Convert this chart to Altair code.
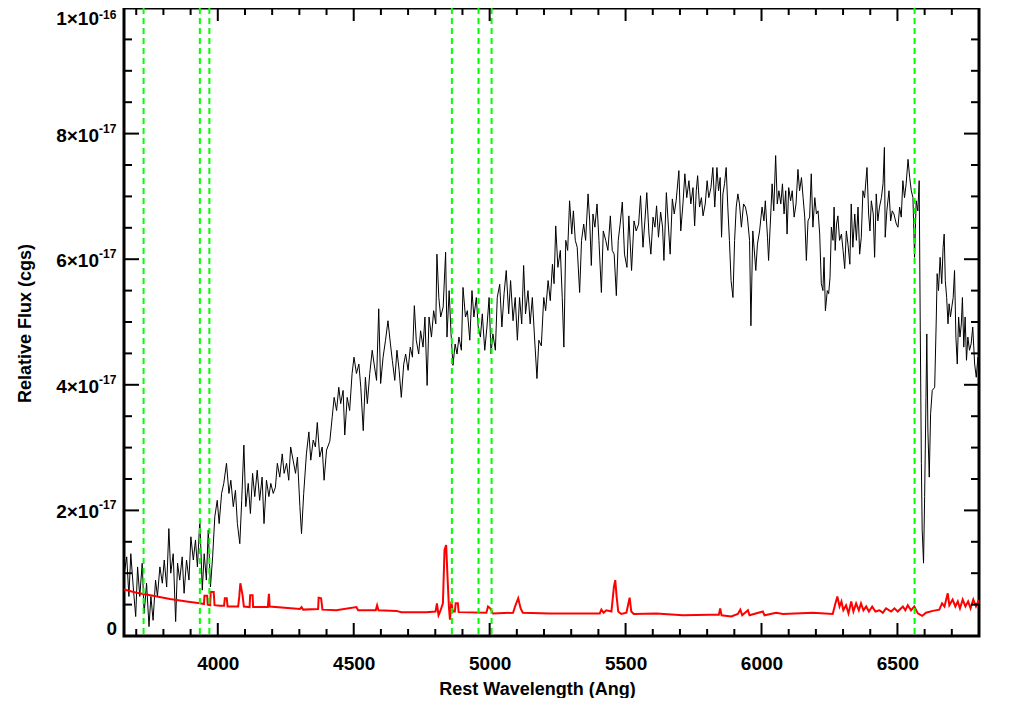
import altair as alt
import pandas as pd

# ---------------- data (flux in units of 1e-17 erg/s/cm^2/A) ----------------
# observed spectrum (black), as (rest wavelength, flux) pairs
spec_blue = [
    (3656, 1.00), (3665, 1.26), (3673, 0.63), (3680, 1.31), (3689, 0.78), (3698, 0.31),
    (3705, 1.10), (3713, 0.63), (3722, 1.16), (3729, 0.36), (3738, 0.84), (3747, 0.15),
    (3754, 0.63), (3762, 0.25), (3771, 0.89), (3778, 0.63), (3787, 1.10), (3796, 0.84),
    (3803, 1.21), (3812, 0.78), (3820, 1.71), (3827, 1.00), (3836, 1.31), (3845, 0.23),
    (3852, 1.16), (3860, 0.89), (3869, 1.26), (3876, 0.68), (3885, 1.21), (3894, 0.89),
    (3901, 1.58), (3910, 1.21), (3918, 1.53), (3925, 1.10), (3934, 1.84), (3943, 0.73),
    (3950, 1.31), (3958, 0.89), (3965, 1.69), (3973, 0.78), (3981, 1.26), (3989, 1.90),
    (3998, 2.16), (4005, 1.79), (4014, 2.27), (4022, 2.43), (4032, 2.75), (4041, 2.27),
    (4048, 2.48), (4057, 2.06), (4065, 2.32), (4072, 1.79), (4081, 1.47), (4088, 2.16),
    (4096, 3.04), (4103, 2.06), (4112, 2.43), (4120, 1.95), (4128, 2.59), (4136, 2.22),
    (4145, 2.64), (4154, 2.16), (4163, 2.53), (4170, 1.79), (4179, 2.48), (4188, 2.22),
    (4195, 2.43), (4204, 2.27), (4212, 2.37), (4219, 2.75), (4228, 2.53), (4237, 2.90),
    (4244, 2.59), (4253, 2.75), (4261, 2.48), (4268, 3.01), (4277, 2.80), (4286, 2.59),
    (4293, 2.85), (4302, 2.06), (4308, 1.63), (4316, 2.27), (4326, 2.90), (4335, 3.25),
    (4342, 2.80), (4351, 3.12), (4359, 3.01), (4366, 3.40), (4375, 2.85), (4384, 3.01),
    (4391, 2.48), (4400, 2.96), (4412, 3.10),
]
spec_green = [
    (4421, 3.49), (4428, 3.80), (4437, 3.59), (4445, 3.96), (4452, 3.70), (4461, 3.91),
    (4467, 3.20), (4476, 3.80), (4485, 3.59), (4494, 4.18), (4501, 4.44), (4510, 4.18),
    (4519, 4.33), (4526, 3.96), (4535, 3.27), (4543, 4.12), (4550, 3.70), (4559, 4.18),
    (4568, 4.55), (4575, 4.33), (4584, 4.07), (4592, 5.21), (4599, 4.02), (4608, 4.44),
    (4617, 4.71), (4626, 5.02), (4635, 4.65), (4642, 4.39), (4651, 4.07), (4659, 4.55),
    (4667, 4.23), (4675, 3.80), (4684, 4.33), (4691, 4.49), (4700, 4.23), (4708, 4.60),
    (4716, 4.44), (4723, 5.26), (4730, 4.71), (4739, 4.49), (4746, 4.86), (4755, 4.60),
    (4762, 5.08), (4770, 3.99), (4777, 5.08), (4786, 4.76), (4794, 5.18), (4802, 4.97),
    (4806, 6.08), (4813, 5.39), (4820, 5.08), (4829, 5.24), (4838, 6.11), (4843, 4.76),
    (4851, 5.50), (4858, 4.81), (4865, 4.31), (4873, 4.65), (4880, 4.49), (4887, 4.76),
    (4896, 4.55), (4902, 5.55), (4911, 5.08), (4918, 5.18), (4927, 4.71), (4935, 5.50),
    (4942, 5.08), (4951, 5.39), (4958, 4.92), (4966, 4.76), (4973, 5.13), (4982, 4.55),
    (4990, 4.92), (4998, 5.39), (5005, 4.49), (5012, 4.81), (5021, 4.55), (5028, 5.39),
    (5037, 5.60), (5045, 4.92), (5053, 5.45), (5061, 5.82), (5070, 5.13), (5077, 5.66),
    (5086, 5.02), (5094, 5.39), (5102, 4.71), (5110, 5.39), (5118, 4.97), (5125, 5.90),
    (5132, 5.13), (5141, 5.50), (5149, 4.97), (5157, 5.39), (5165, 4.76), (5174, 4.10),
    (5181, 4.71), (5190, 4.62),
]
spec_yellow = [
    (5199, 5.39), (5206, 5.18), (5215, 5.66), (5223, 5.34), (5231, 5.92), (5237, 5.61),
    (5243, 6.53), (5251, 5.87), (5260, 6.14), (5267, 5.39), (5273, 4.60), (5280, 6.30),
    (5287, 6.14), (5294, 6.93), (5302, 6.40), (5308, 6.77), (5315, 6.30), (5322, 6.19),
    (5331, 5.47), (5338, 6.30), (5346, 6.56), (5353, 6.30), (5362, 7.04), (5368, 6.61),
    (5374, 5.90), (5380, 6.72), (5387, 6.51), (5395, 6.88), (5402, 6.30), (5411, 5.47),
    (5418, 6.45), (5427, 6.30), (5435, 6.14), (5444, 6.69), (5451, 6.14), (5458, 6.08),
    (5466, 5.42), (5473, 6.30), (5480, 6.56), (5488, 6.91), (5496, 6.08), (5505, 5.87),
    (5512, 6.69), (5522, 5.82), (5531, 6.61), (5539, 6.45), (5548, 6.56), (5555, 7.01),
    (5564, 6.19), (5571, 6.61), (5578, 7.06), (5586, 6.40), (5593, 6.08), (5601, 6.67),
    (5608, 6.51), (5614, 6.85), (5621, 6.35), (5629, 6.75), (5636, 6.51), (5641, 5.98),
    (5650, 7.06), (5657, 6.56), (5664, 6.08), (5672, 6.96), (5679, 6.72), (5686, 6.93),
    (5696, 7.41), (5703, 6.45), (5711, 6.88), (5718, 7.36), (5725, 6.98), (5733, 7.25),
    (5740, 6.88), (5748, 7.14), (5754, 6.53), (5760, 7.09), (5765, 7.33), (5772, 6.83),
    (5779, 6.98), (5785, 6.69), (5793, 6.88), (5800, 7.25), (5806, 6.98), (5814, 7.14),
    (5821, 7.46), (5828, 6.83), (5836, 7.46), (5842, 7.09), (5848, 7.30), (5853, 6.35),
    (5858, 7.04), (5864, 7.20), (5870, 7.46), (5876, 6.83), (5882, 6.30), (5888, 5.66),
    (5895, 5.39), (5901, 6.30), (5907, 6.83), (5913, 7.04), (5919, 6.88), (5926, 6.51),
    (5934, 6.88), (5941, 6.83), (5948, 6.67), (5956, 6.30), (5961, 4.94), (5968, 6.45),
]
spec_red = [
    (5979, 5.82), (5985, 6.24), (5993, 6.45), (6002, 6.83), (6009, 6.61), (6014, 6.93),
    (6022, 6.35), (6026, 5.98), (6034, 6.72), (6039, 7.20), (6045, 6.77), (6052, 7.65),
    (6058, 6.88), (6064, 7.09), (6071, 6.88), (6077, 7.20), (6083, 6.72), (6089, 7.09),
    (6094, 6.40), (6100, 7.14), (6107, 6.93), (6113, 7.09), (6120, 6.67), (6127, 6.88),
    (6134, 7.43), (6140, 7.09), (6147, 7.30), (6153, 6.98), (6159, 6.67), (6165, 5.98),
    (6171, 6.61), (6177, 6.67), (6183, 7.36), (6189, 6.51), (6196, 6.98), (6202, 6.72),
    (6208, 6.77), (6214, 6.40), (6220, 5.61), (6226, 5.50), (6230, 6.03), (6235, 5.18),
    (6242, 5.50), (6247, 5.45), (6252, 5.71), (6257, 6.51), (6263, 6.30), (6267, 6.83),
    (6271, 6.14), (6276, 6.56), (6281, 6.69), (6287, 6.30), (6294, 6.40), (6300, 6.14),
    (6306, 5.85), (6312, 6.45), (6318, 6.24), (6325, 5.92), (6330, 6.88), (6336, 6.19),
    (6343, 6.72), (6349, 6.30), (6355, 6.83), (6361, 6.08), (6367, 6.35), (6373, 7.09),
    (6379, 6.98), (6388, 7.46), (6394, 6.72), (6399, 6.45), (6404, 6.93), (6411, 6.72),
    (6416, 6.03), (6422, 7.04), (6428, 6.61), (6434, 6.83), (6441, 6.98), (6447, 7.20),
    (6452, 7.78), (6455, 6.35), (6461, 6.77), (6469, 7.09), (6475, 6.61), (6481, 6.77),
    (6487, 6.72), (6496, 6.56), (6502, 6.51), (6508, 6.83), (6514, 6.67), (6520, 7.25),
    (6526, 6.98), (6532, 7.20), (6539, 7.59), (6545, 7.30), (6551, 7.09), (6557, 6.98),
    (6563, 6.03), (6569, 6.93), (6575, 6.77), (6580, 7.25), (6584, 4.86), (6588, 2.75),
    (6591, 1.69), (6596, 1.16), (6600, 2.22), (6605, 3.80), (6608, 4.81), (6612, 3.28),
    (6617, 2.53), (6622, 3.54), (6628, 3.91), (6637, 3.96), (6643, 5.08), (6646, 5.77),
    (6651, 5.50), (6657, 6.03), (6663, 5.61), (6668, 6.19), (6672, 6.40), (6676, 5.66),
    (6681, 5.39), (6686, 4.97), (6690, 5.29), (6695, 5.08), (6700, 5.24), (6705, 5.39),
    (6710, 5.82), (6715, 4.76), (6720, 4.33), (6725, 5.08), (6730, 4.76), (6735, 4.97),
    (6739, 5.39), (6744, 4.60), (6749, 5.08), (6754, 4.39), (6759, 4.76), (6765, 4.55),
    (6771, 4.65), (6777, 4.92), (6784, 4.33), (6790, 4.12), (6796, 4.44), (6799, 4.33),
]

# error / model spectrum (red)
err_blue = [
    (3655, 0.74), (3701, 0.69), (3762, 0.64), (3824, 0.59), (3885, 0.55), (3934, 0.52),
    (3949, 0.51), (3951, 0.64), (3961, 0.64), (3963, 0.50), (3972, 0.49), (3974, 0.70),
    (3985, 0.70), (3988, 0.49), (4007, 0.48), (4023, 0.48), (4026, 0.60), (4033, 0.60),
    (4036, 0.47), (4075, 0.47), (4079, 0.63), (4083, 0.84), (4091, 0.65), (4096, 0.47),
    (4117, 0.46), (4119, 0.65), (4128, 0.65), (4130, 0.46), (4184, 0.46), (4188, 0.67),
    (4191, 0.47), (4302, 0.43), (4308, 0.46), (4314, 0.42), (4369, 0.43), (4371, 0.61),
    (4380, 0.60), (4385, 0.42), (4436, 0.41), (4510, 0.46), (4516, 0.41), (4581, 0.41),
    (4586, 0.49), (4591, 0.41), (4657, 0.40), (4675, 0.38), (4767, 0.38), (4801, 0.39),
    (4806, 0.52), (4812, 0.33), (4818, 0.39), (4828, 0.52), (4834, 1.37), (4840, 1.45),
    (4845, 0.94), (4850, 0.47), (4854, 0.26), (4859, 0.55), (4864, 0.39), (4872, 0.39),
    (4875, 0.52), (4883, 0.52), (4886, 0.38), (4988, 0.37), (4994, 0.47), (5002, 0.44),
    (5012, 0.36), (5086, 0.37), (5095, 0.49), (5105, 0.60), (5114, 0.44), (5122, 0.37),
    (5220, 0.36),
]
err_red = [
    (5344, 0.36), (5405, 0.36), (5411, 0.42), (5419, 0.37), (5429, 0.41), (5448, 0.39),
    (5457, 0.78), (5462, 0.89), (5467, 0.63), (5473, 0.39), (5484, 0.35), (5503, 0.37),
    (5515, 0.61), (5521, 0.39), (5530, 0.35), (5613, 0.36), (5711, 0.33), (5809, 0.34),
    (5843, 0.34), (5848, 0.44), (5853, 0.33), (5889, 0.31), (5913, 0.35), (5922, 0.42),
    (5929, 0.33), (5950, 0.41), (5956, 0.33), (6005, 0.39), (6011, 0.33), (6054, 0.37),
    (6079, 0.35), (6189, 0.37), (6262, 0.35), (6272, 0.52), (6279, 0.63), (6287, 0.47),
    (6294, 0.55), (6301, 0.41), (6311, 0.49), (6320, 0.36), (6330, 0.55), (6338, 0.39),
    (6348, 0.52), (6358, 0.41), (6366, 0.52), (6375, 0.41), (6385, 0.47), (6395, 0.39),
    (6407, 0.47), (6419, 0.39), (6434, 0.41), (6446, 0.37), (6458, 0.44), (6477, 0.39),
    (6489, 0.44), (6501, 0.39), (6520, 0.47), (6529, 0.41), (6538, 0.49), (6550, 0.41),
    (6562, 0.47), (6575, 0.36), (6591, 0.32), (6605, 0.37), (6630, 0.40), (6654, 0.42),
    (6664, 0.52), (6673, 0.47), (6685, 0.68), (6691, 0.49), (6703, 0.58), (6713, 0.47),
    (6722, 0.55), (6730, 0.44), (6740, 0.58), (6750, 0.47), (6760, 0.55), (6769, 0.44),
    (6779, 0.58), (6789, 0.47), (6799, 0.57),
]

# marked lines: [OII] 3727, Ca K, Ca H, Hbeta, [OIII] 4959, 5007, Halpha
line_wl = [3727, 3934, 3969, 4861, 4959, 5007, 6563]

x_major = [4000, 4500, 5000, 5500, 6000, 6500]
x_minor = [3700, 3800, 3900, 4100, 4200, 4300, 4400, 4600, 4700, 4800, 4900,
           5100, 5200, 5300, 5400, 5600, 5700, 5800, 5900, 6100, 6200, 6300,
           6400, 6600, 6700]
y_major = [0, 2e-17, 4e-17, 6e-17, 8e-17, 1e-16]
y_minor = [5e-18, 1e-17, 1.5e-17, 2.5e-17, 3e-17, 3.5e-17, 4.5e-17, 5e-17,
           5.5e-17, 6.5e-17, 7e-17, 7.5e-17, 8.5e-17, 9e-17, 9.5e-17]
y_main = ["0", "2×10", "4×10", "6×10", "8×10", "1×10"]
y_sup = ["", "-17", "-17", "-17", "-17", "-16"]

# ---------------- build ----------------
FONT = "Liberation Sans"
W, H = 855, 628


def pts_df(*segs):
    rows = [p for s in segs for p in s]
    return pd.DataFrame({"wl": [r[0] for r in rows], "flux": [r[1] * 1e-17 for r in rows]})


spec_df = pts_df(spec_blue, spec_green, spec_yellow, spec_red)
err_df = pts_df(err_blue, err_red)

xscale = alt.Scale(domain=[3655, 6800], nice=False, zero=False)
yscale = alt.Scale(domain=[0, 1.0e-16], nice=False, zero=False)

xaxis = alt.Axis(values=x_major, format="d", ticks=False, domain=False, grid=False,
                 labelFont=FONT, labelFontSize=19, labelFontWeight="bold", labelColor="black",
                 labelPadding=18, labelFlush=False, labelOverlap=False,
                 title="Rest Wavelength (Ang)", titleFont=FONT, titleFontSize=18,
                 titleFontWeight="bold", titleColor="black", titleX=413, titleY=53,
                 titleAlign="center", titleBaseline="middle")
yaxis = alt.Axis(ticks=False, labels=False, domain=False, grid=False,
                 title="Relative Flux (cgs)", titleFont=FONT, titleFontSize=18,
                 titleFontWeight="bold", titleColor="black", titleX=-99, titleY=315,
                 titleAngle=270, titleAlign="center", titleBaseline="middle")


def X():
    return alt.X("wl:Q", scale=xscale, axis=xaxis)


def Y():
    return alt.Y("flux:Q", scale=yscale, axis=yaxis)


spec = alt.Chart(spec_df).mark_line(color="black", strokeWidth=1, clip=True).encode(x=X(), y=Y())
err = alt.Chart(err_df).mark_line(color="#ff0000", strokeWidth=2, clip=True).encode(x=X(), y=Y())
lines = alt.Chart(pd.DataFrame({"wl": line_wl})).mark_rule(
    color="#00ff00", strokeWidth=2, strokeDash=[6, 4]).encode(x=X())


def xticks(vals, length):
    df = pd.DataFrame({"wl": vals})
    bottom = alt.Chart(df).mark_rule(color="black", strokeWidth=2).encode(
        x=X(), y=alt.value(H), y2=alt.value(H - length))
    top = alt.Chart(df).mark_rule(color="black", strokeWidth=2).encode(
        x=X(), y=alt.value(0), y2=alt.value(length))
    return [bottom, top]


def yticks(vals, length):
    df = pd.DataFrame({"flux": vals})
    left = alt.Chart(df).mark_rule(color="black", strokeWidth=2).encode(
        y=Y(), x=alt.value(0), x2=alt.value(length))
    right = alt.Chart(df).mark_rule(color="black", strokeWidth=2).encode(
        y=Y(), x=alt.value(W), x2=alt.value(W - length))
    return [left, right]


ylab = pd.DataFrame({"flux": y_major, "main": y_main, "sup": y_sup})


def ylabel_layers(flt, dy_main, dy_sup):
    main = alt.Chart(ylab).transform_filter(flt).mark_text(
        align="right", baseline="middle", font=FONT, fontSize=19, fontWeight="bold",
        color="black", dy=dy_main).encode(x=alt.value(-25), y=Y(), text="main:N")
    sup = alt.Chart(ylab).transform_filter(flt).mark_text(
        align="left", baseline="middle", font=FONT, fontSize=12, fontWeight="bold",
        color="black", dy=dy_sup).encode(x=alt.value(-25), y=Y(), text="sup:N")
    return [main, sup]


yzero = alt.Chart(ylab).transform_filter("datum.flux == 0").mark_text(
    align="right", baseline="alphabetic", font=FONT, fontSize=19, fontWeight="bold",
    color="black", dy=-1).encode(x=alt.value(-7), y=Y(), text="main:N")

layers = [spec, err, lines] + xticks(x_major, 13) + xticks(x_minor, 7) \
    + yticks(y_major, 15) + yticks(y_minor, 8) \
    + ylabel_layers("datum.flux > 0 && datum.flux < 9.9e-17", 2, -5) \
    + ylabel_layers("datum.flux >= 9.9e-17", 11, 7) + [yzero]

chart = alt.layer(*layers).properties(
    width=W, height=H, autosize="none",
    padding={"left": 116, "top": 0, "right": 25, "bottom": 62},
    background="white",
).configure_view(stroke="black", strokeWidth=3)

chart.save("out.html", embed_options={"renderer": "svg", "actions": False})
